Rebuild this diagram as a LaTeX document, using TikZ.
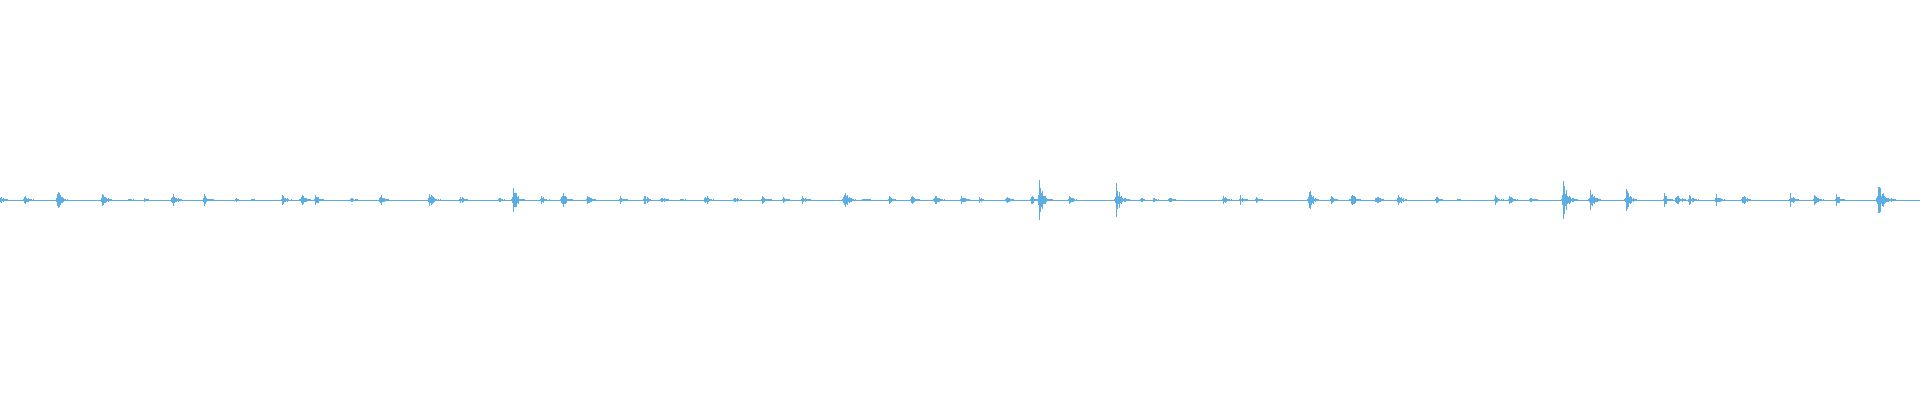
\documentclass[tikz,border=0pt]{standalone}
\definecolor{wave}{RGB}{93,173,226}
\begin{document}
\begin{tikzpicture}[x=1pt,y=1pt,wv/.style={draw=wave,line width=0.9pt}]
\useasboundingbox (0,-200) rectangle (1920,200);
\pgfmathsetseed{7}
\draw[wv,line width=0.8pt] (0,0) -- (1920,0);
\foreach \p/\a in {0/4,20/5,47/9,84/6,105/2,118/2,141/7,167/5,193/2,206/2,231/5,246/6,258/5,287/2,311/6,351/7,376/4,408/2,419/12,442/4,459/8,480/6,507/4,526/5,540/3,556/2,576/5,600/3,623/5,640/4,655/4,690/10,705/3,726/4,744/5,764/6,785/4,800/3,822/4,842/4,849/17,873/4,912/15,932/2,942/2,955/3,999/4,1013/4,1026/3,1069/9,1087/4,1104/7,1124/5,1142/5,1173/4,1190/2,1221/4,1233/5,1250/3,1277/18,1299/10,1328/10,1359/6,1369/6,1380/5,1402/5,1423/5,1462/6,1482/6,1500/5,1534/20,1545/2}{
  \pgfmathsetmacro{\X}{\p*1.2245}
  \pgfmathsetmacro{\A}{\a*1.2245}
  \foreach \k in {-2,...,16}{
    \pgfmathsetmacro{\h}{\A*exp(-abs(\k)/(\k<0?0.8:4))*(0.35+0.65*rnd)}
    \draw[wv] (\X+\k,-\h) -- (\X+\k,\h);
  }
}
\end{tikzpicture}
\end{document}
